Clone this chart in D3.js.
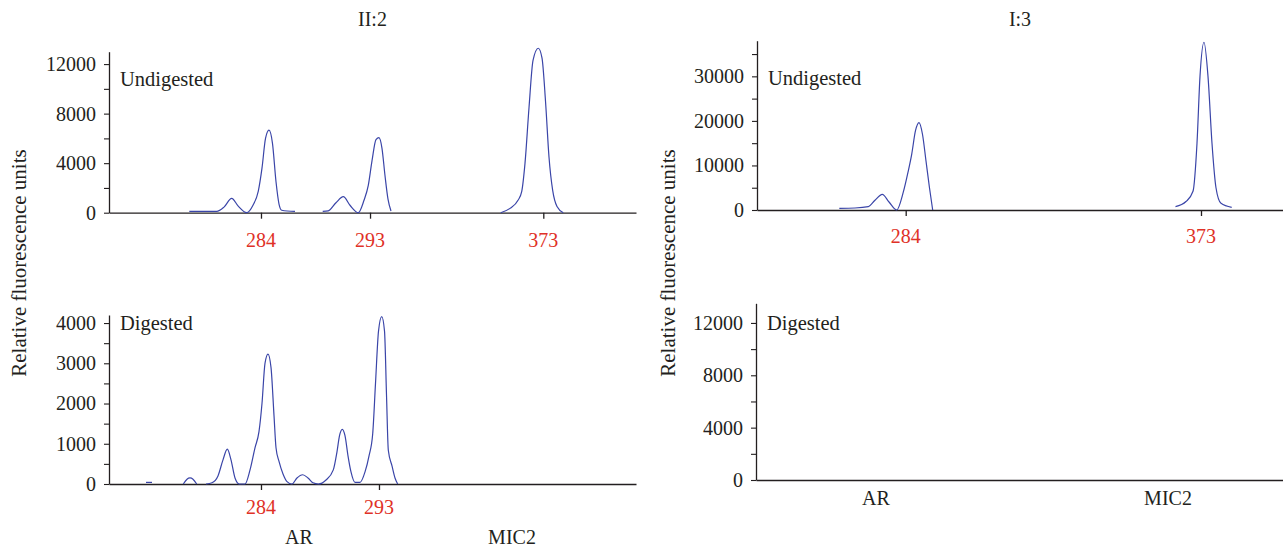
<!DOCTYPE html>
<html>
<head>
<meta charset="utf-8">
<script src="https://cdn.jsdelivr.net/npm/d3@7"></script>
<style>
  body { margin: 0; background: #fff; }
  svg text { font-family: "Liberation Serif", "Times New Roman", serif; fill: #231f20; }
</style>
</head>
<body>
<div id="chart"></div>
<script>
// x values are relative migration positions (0-100 across each panel's axis)
const panelTitles = ["II:2", "I:3"];
const yLabel = "Relative fluorescence units";

// II:2 undigested trace, split where the signal is not drawn
const ii2Undigested = [
  [[15.24, 100], [20.44, 100], [21.82, 450], [23.28, 1160], [24.48, 550], [26.13, 0], [27.32, 600],
   [28.33, 1750], [29.03, 3600], [29.70, 6000], [30.36, 6660], [31.02, 5600], [31.69, 2500],
   [32.26, 700], [32.77, 200], [35.29, 100]],
  [[40.55, 100], [41.61, 150], [43.07, 800], [44.46, 1290], [45.73, 600], [47.31, 0], [48.39, 1000],
   [49.20, 2200], [49.91, 4200], [50.66, 5900], [51.23, 6060], [51.80, 5200], [52.37, 3000],
   [52.94, 1100], [53.51, 140]],
  [[74.33, 0], [76.09, 350], [77.61, 1000], [78.31, 1700], [78.94, 4000], [79.70, 8500], [80.46, 12300],
   [81.46, 13280], [82.16, 12500], [82.83, 9000], [83.49, 4500], [84.19, 1800], [85.01, 500], [86.20, 0]]
];

const ii2Digested = [
  [[7.02, 40], [8.16, 40]],
  [[14.10, 0], [14.80, 120], [15.37, 150], [15.94, 120], [16.64, 0]],
  [[18.41, 0], [19.54, 30], [20.68, 200], [21.63, 600], [22.45, 866], [23.15, 600], [23.91, 150],
   [24.72, 0], [25.81, 0], [26.76, 350], [27.70, 900], [28.46, 1300], [29.03, 2000], [29.60, 3000],
   [30.17, 3230], [30.74, 2900], [31.31, 1700], [31.69, 900], [32.26, 560], [33.02, 250], [33.78, 60],
   [34.72, 0], [35.67, 150], [36.76, 230], [37.76, 150], [38.71, 30], [39.72, 0], [41.18, 100],
   [42.56, 350], [43.26, 800], [43.74, 1200], [44.27, 1360], [44.78, 1200], [45.35, 700], [45.92, 300],
   [46.68, 40], [47.63, 40], [48.58, 300], [49.34, 700], [50.04, 1250], [50.57, 2500], [51.14, 3800],
   [51.75, 4160], [52.28, 3800], [52.66, 2200], [53.00, 840], [53.70, 450], [54.27, 150], [54.78, 0]]
];

const i3Undigested = [
  [[15.65, 380], [18.63, 450], [21.16, 740], [22.43, 2200], [23.82, 3510], [25.10, 1800], [26.56, 0],
   [27.81, 4000], [28.71, 8500], [29.41, 12500], [30.13, 17800], [30.80, 19620], [31.46, 17000],
   [32.13, 11000], [32.79, 5000], [33.40, 0]],
  [[79.56, 740], [81.56, 1900], [82.89, 4200], [83.65, 15000], [84.22, 30000], [84.98, 37650],
   [85.74, 30000], [86.50, 15000], [87.26, 5000], [88.21, 1500], [90.25, 600]]
];

const i3Digested = [];

// allele size markers (red) and locus labels
const ii2UndigestedSizes = [[28.84, "284"], [49.53, "293"], [82.41, "373"]];
const ii2DigestedSizes = [[28.84, "284"], [51.23, "293"]];
const i3UndigestedSizes = [[28.27, "284"], [84.41, "373"]];
const ii2Loci = [[36.05, "AR"], [76.47, "MIC2"]];
const i3Loci = [[22.77, "AR"], [78.18, "MIC2"]];

const panels = [
  { label: "Undigested", labelY: 86, x0: 109, x1: 636, yTop: 51.7, yBase: 212.7, yMax: 13000, minor: 2000, major: 4000,
    traces: ii2Undigested, sizes: ii2UndigestedSizes, sizeY: 246.7, loci: null },
  { label: "Digested", labelY: 330, x0: 109, x1: 636, yTop: 315, yBase: 484, yMax: 4200, minor: 500, major: 1000,
    traces: ii2Digested, sizes: ii2DigestedSizes, sizeY: 514, loci: ii2Loci, lociY: 544 },
  { label: "Undigested", labelY: 85, x0: 757, x1: 1283, yTop: 40.7, yBase: 210, yMax: 38000, minor: 5000, major: 10000,
    traces: i3Undigested, sizes: i3UndigestedSizes, sizeY: 243, loci: null },
  { label: "Digested", labelY: 330, x0: 756, x1: 1283, yTop: 303.3, yBase: 480, yMax: 13500, minor: 2000, major: 4000,
    traces: i3Digested, sizes: [], sizeY: 0, loci: i3Loci, lociY: 505 }
];

const svg = d3.select("#chart").append("svg")
  .attr("width", 1283)
  .attr("height", 549);

const axisColor = "#231f20";
const traceColor = "#3a45a8";
const sizeColor = "#e03127";

panels.forEach(p => {
  const x = d3.scaleLinear().domain([0, 100]).range([p.x0, p.x1]);
  const y = d3.scaleLinear().domain([0, p.yMax]).range([p.yBase, p.yTop]);

  // y axis, minor ticks unlabeled
  const yTicks = d3.range(0, p.yMax + 1, p.minor);
  const yAxis = d3.axisLeft(y)
    .tickValues(yTicks)
    .tickSize(5)
    .tickSizeOuter(0)
    .tickPadding(8)
    .tickFormat(d => d % p.major === 0 ? d : "");
  const gy = svg.append("g")
    .attr("transform", `translate(${p.x0},0)`)
    .call(yAxis);
  gy.select(".domain").attr("stroke", axisColor).attr("stroke-width", 1.3);
  gy.selectAll(".tick line").attr("stroke", axisColor).attr("stroke-width", 1.1);
  gy.selectAll(".tick text")
    .attr("font-size", 20)
    .attr("font-family", "Liberation Serif")
    .attr("fill", axisColor);

  // x axis with size ticks
  const xAxis = d3.axisBottom(x)
    .tickValues(p.sizes.map(d => d[0]))
    .tickSize(6)
    .tickSizeOuter(0)
    .tickFormat("");
  const gx = svg.append("g")
    .attr("transform", `translate(0,${p.yBase})`)
    .call(xAxis);
  gx.select(".domain").attr("stroke", axisColor).attr("stroke-width", 1.3);
  gx.selectAll(".tick line").attr("stroke", axisColor).attr("stroke-width", 1.3);

  svg.append("g").selectAll("text")
    .data(p.sizes)
    .join("text")
      .attr("x", d => x(d[0]))
      .attr("y", p.sizeY)
      .attr("text-anchor", "middle")
      .attr("font-size", 20)
      .style("fill", sizeColor)
      .text(d => d[1]);

  if (p.loci) {
    svg.append("g").selectAll("text")
      .data(p.loci)
      .join("text")
        .attr("x", d => x(d[0]))
        .attr("y", p.lociY)
        .attr("text-anchor", "middle")
        .attr("font-size", 20)
        .text(d => d[1]);
  }

  // panel label
  svg.append("text")
    .attr("x", p.x0 + 11)
    .attr("y", p.labelY)
    .attr("font-size", 20.5)
    .text(p.label);

  // traces
  const line = d3.line()
    .x(d => x(d[0]))
    .y(d => y(d[1]))
    .curve(d3.curveMonotoneX);

  svg.append("g").selectAll("path")
    .data(p.traces)
    .join("path")
      .attr("d", line)
      .attr("fill", "none")
      .attr("stroke", traceColor)
      .attr("stroke-width", 1.2);
});

// titles
svg.selectAll(".title")
  .data([[(109 + 636) / 2, panelTitles[0]], [(757 + 1283) / 2, panelTitles[1]]])
  .join("text")
    .attr("class", "title")
    .attr("x", d => d[0])
    .attr("y", 26)
    .attr("text-anchor", "middle")
    .attr("font-size", 20)
    .text(d => d[1]);

// y axis labels
[26, 675].forEach(xPos => {
  svg.append("text")
    .attr("transform", `translate(${xPos},263) rotate(-90)`)
    .attr("text-anchor", "middle")
    .attr("font-size", 21)
    .text(yLabel);
});
</script>
</body>
</html>
